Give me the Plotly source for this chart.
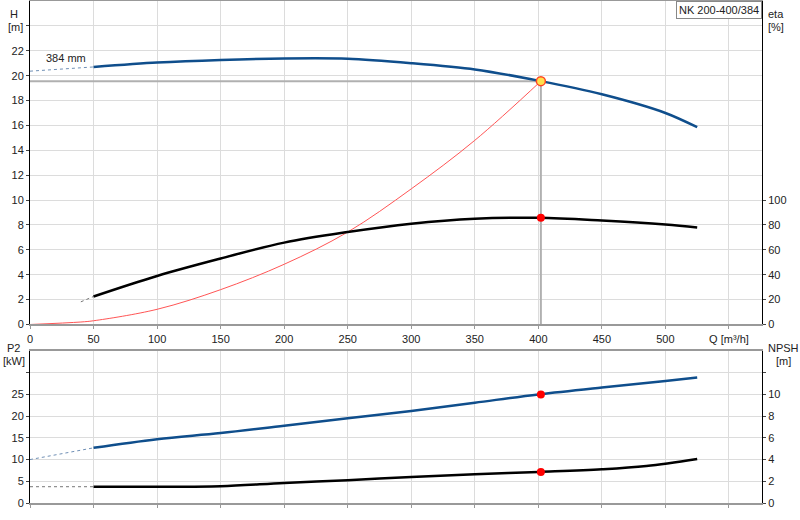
import plotly.graph_objects as go

# pump NK 200-400/384 - curves
q_h = [50, 100, 150, 200, 250, 300, 350, 400, 450, 500, 525]
h = [20.7, 21.05, 21.26, 21.38, 21.36, 21.0, 20.5, 19.6, 18.5, 17.0, 15.86]
q_h_ext = [0, 50]
h_ext = [20.36, 20.7]

q_eta = [50, 100, 150, 200, 250, 300, 350, 400, 450, 500, 525]
eta = [22.5, 39, 53, 65.8, 74.3, 81, 85, 85.8, 83.6, 80.4, 78]
q_eta_ext = [40, 50]
eta_ext = [18.2, 22.5]

q_sys = [0, 40, 50, 100, 150, 200, 250, 300, 350, 402]
h_sys = [0, 0.2, 0.3, 1.22, 2.8, 4.84, 7.43, 10.9, 14.8, 19.56]

q_p2 = [50, 100, 150, 200, 250, 300, 350, 400, 450, 500, 525]
p2 = [12.7, 14.7, 16.1, 17.8, 19.5, 21.2, 23.1, 25.0, 26.6, 28.1, 28.9]
q_p2_ext = [0, 50]
p2_ext = [10, 12.7]

q_npsh = [50, 100, 150, 200, 250, 300, 350, 400, 450, 485, 525]
npsh = [1.5, 1.5, 1.55, 1.85, 2.1, 2.4, 2.65, 2.86, 3.1, 3.4, 4.05]
q_npsh_ext = [0, 50]
npsh_ext = [1.5, 1.5]

# duty point
q_op = 402
h_op = 19.56
eta_op = 85.8
p2_op = 25.0
npsh_op = 2.86

q_ticks = [0, 50, 100, 150, 200, 250, 300, 350, 400, 450, 500, 550]
q_labels = ["0", "50", "100", "150", "200", "250", "300", "350", "400", "450", "500", "Q [m³/h]"]
h_ticks = [0, 2, 4, 6, 8, 10, 12, 14, 16, 18, 20, 22, 24]
eta_ticks = [0, 20, 40, 60, 80, 100]
p2_ticks = [0, 5, 10, 15, 20, 25, 30]
npsh_ticks = [0, 2, 4, 6, 8, 10, 12]

BLUE = "#0f4e8c"
GRID = "#dcdcdc"

fig = go.Figure()

# top panel
fig.add_trace(go.Scatter(x=[0, q_op], y=[h_op, h_op], mode="lines",
                         line=dict(color="#b0b0b0", width=2), xaxis="x", yaxis="y"))
fig.add_trace(go.Scatter(x=[q_op, q_op], y=[0, h_op], mode="lines",
                         line=dict(color="#b0b0b0", width=2), xaxis="x", yaxis="y"))
fig.add_trace(go.Scatter(x=q_sys, y=h_sys, mode="lines", line=dict(color="#ff5555", width=1, shape="spline"),
                         xaxis="x", yaxis="y"))
fig.add_trace(go.Scatter(x=q_h_ext, y=h_ext, mode="lines", line=dict(color="#6f8fb5", width=1, dash="dot"),
                         xaxis="x", yaxis="y"))
fig.add_trace(go.Scatter(x=q_h, y=h, mode="lines", line=dict(color=BLUE, width=2.5, shape="spline", smoothing=0.8),
                         xaxis="x", yaxis="y"))
fig.add_trace(go.Scatter(x=q_eta_ext, y=eta_ext, mode="lines", line=dict(color="#777", width=1, dash="dot"),
                         xaxis="x", yaxis="y2"))
fig.add_trace(go.Scatter(x=q_eta, y=eta, mode="lines", line=dict(color="black", width=2.5, shape="spline"),
                         xaxis="x", yaxis="y2"))
fig.add_trace(go.Scatter(x=[q_op], y=[eta_op], mode="markers", marker=dict(color="red", size=8),
                         xaxis="x", yaxis="y2"))
fig.add_trace(go.Scatter(x=[q_op], y=[h_op], mode="markers",
                         marker=dict(color="#ffe14d", size=9, line=dict(color="#ff4422", width=1.5)),
                         xaxis="x", yaxis="y"))

# bottom panel
fig.add_trace(go.Scatter(x=q_p2_ext, y=p2_ext, mode="lines", line=dict(color="#6f8fb5", width=1, dash="dot"),
                         xaxis="x2", yaxis="y3"))
fig.add_trace(go.Scatter(x=q_p2, y=p2, mode="lines", line=dict(color=BLUE, width=2.5, shape="spline"),
                         xaxis="x2", yaxis="y3"))
fig.add_trace(go.Scatter(x=[q_op], y=[p2_op], mode="markers", marker=dict(color="red", size=8),
                         xaxis="x2", yaxis="y3"))
fig.add_trace(go.Scatter(x=q_npsh_ext, y=npsh_ext, mode="lines", line=dict(color="#777", width=1, dash="dot"),
                         xaxis="x2", yaxis="y4"))
fig.add_trace(go.Scatter(x=q_npsh, y=npsh, mode="lines", line=dict(color="black", width=2.5, shape="spline"),
                         xaxis="x2", yaxis="y4"))
fig.add_trace(go.Scatter(x=[q_op], y=[npsh_op], mode="markers", marker=dict(color="red", size=8),
                         xaxis="x2", yaxis="y4"))

tick_font = dict(family="Liberation Sans, Arial", size=11, color="#222")
xcommon = dict(range=[0, 576], tickvals=q_ticks, showgrid=True, gridcolor=GRID, zeroline=False,
               showline=True, linecolor="#999", linewidth=2, mirror=True, tickfont=tick_font,
               ticks="outside", ticklen=3, tickcolor="#999", automargin=False)
ycommon = dict(showgrid=True, gridcolor=GRID, zeroline=False, showline=True, linecolor="black",
               ticks="outside", ticklen=3, tickcolor="#444", tickfont=tick_font, automargin=False)

fig.update_layout(
    width=800, height=520,
    margin=dict(l=30, r=38, t=1, b=17),
    paper_bgcolor="white", plot_bgcolor="white",
    showlegend=False,
    font=dict(family="Liberation Sans, Arial", size=11, color="#222"),
    xaxis=dict(xcommon, domain=[0, 1], anchor="y", ticktext=q_labels),
    xaxis2=dict(xcommon, domain=[0, 1], anchor="y3", showticklabels=False),
    yaxis=dict(ycommon, domain=[0.3556, 1], range=[0, 26], tickvals=h_ticks,
               ticktext=[str(v) for v in h_ticks[:-1]] + [""]),
    yaxis2=dict(ycommon, overlaying="y", side="right", range=[0, 260], tickvals=eta_ticks,
                showgrid=False, anchor="x"),
    yaxis3=dict(ycommon, domain=[0, 0.3028], range=[0, 35], tickvals=p2_ticks,
                ticktext=[str(v) for v in p2_ticks[:-1]] + [""], anchor="x2"),
    yaxis4=dict(ycommon, overlaying="y3", side="right", range=[0, 14], tickvals=npsh_ticks,
                ticktext=[str(v) for v in npsh_ticks[:-1]] + [""], showgrid=False, anchor="x2"),
)

# axis titles, placed by pixel offset from the plot edges
notes = [
    ("H", 0, -16, 0.990), ("[m]", 0, -15, 0.964),
    ("eta", 1, 14, 0.990), ("[%]", 1, 14, 0.964),
    ("P2", 0, -17, 0.2928), ("[kW]", 0, -16, 0.2669),
    ("NPSH", 1, 21, 0.2928), ("[m]", 1, 21, 0.2669),
]
for txt, xp, dx, yp in notes:
    fig.add_annotation(text=txt, x=xp, xshift=dx, y=yp, xref="paper", yref="paper",
                       xanchor="center", showarrow=False, font=dict(size=11, color="#222"))

fig.add_annotation(text="384 mm", x=28.7, y=21.4, xref="x", yref="y", showarrow=False,
                   font=dict(size=11, color="#222"))
fig.add_annotation(text="NK 200-400/384", x=1, y=1, xref="paper", yref="paper",
                   xanchor="right", yanchor="top", showarrow=False,
                   bgcolor="white", bordercolor="#888", borderwidth=1, borderpad=2,
                   font=dict(size=11, color="#222"))

# page body has a default 8px margin, drop it so the chart sits at the corner
fig.write_html("out.html", config={"displayModeBar": False},
               post_script="document.body.style.margin='0';")
